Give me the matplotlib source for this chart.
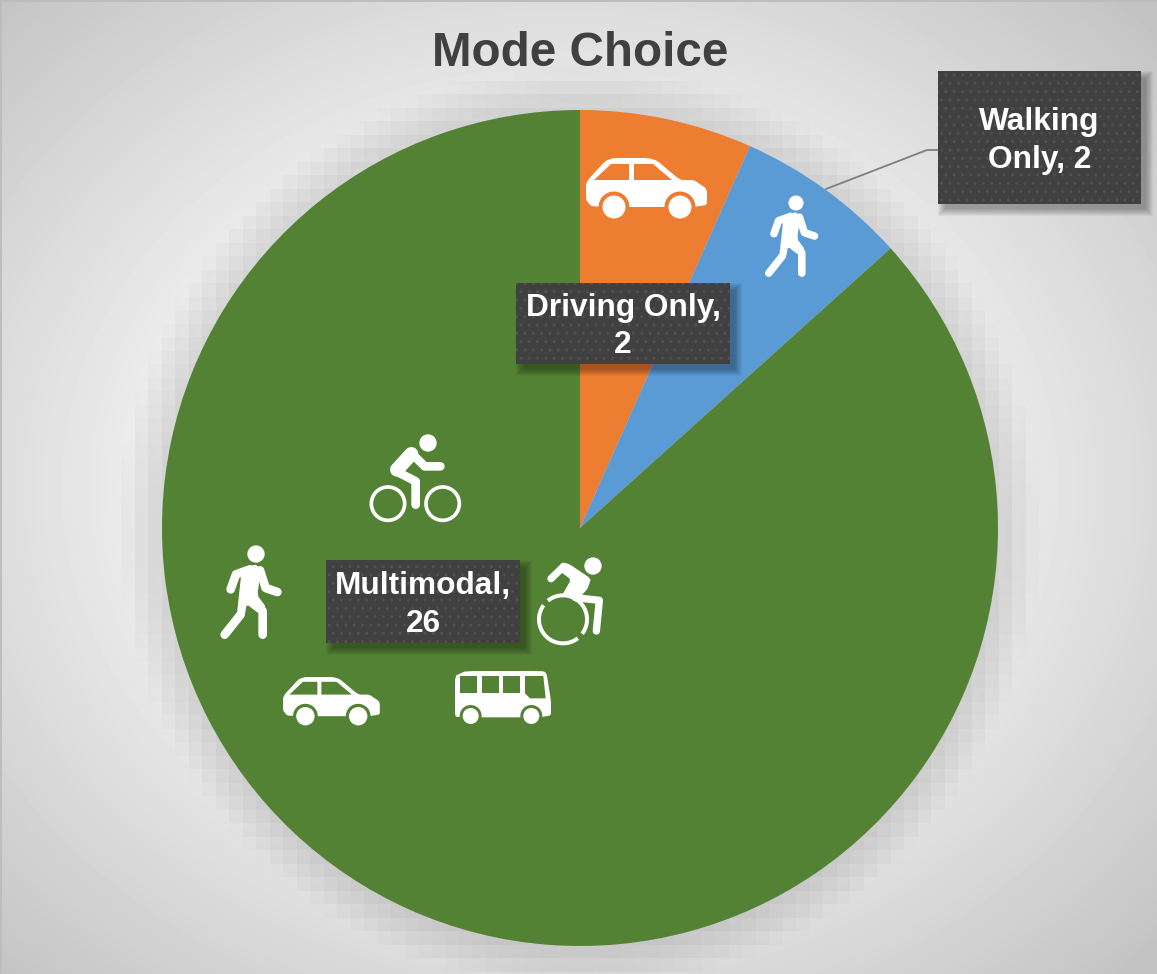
import matplotlib
matplotlib.use("Agg")

import matplotlib.pyplot as plt
import numpy as np
from matplotlib.patches import Circle, Polygon, Rectangle

W, H = 1157, 974

title = "Mode Choice"
categories = ["Driving Only", "Walking Only", "Multimodal"]
values = [2, 2, 26]
colors = ["#ED7D31", "#5B9BD5", "#548235"]
label_texts = ["Driving Only,\n2", "Walking\nOnly, 2", "Multimodal,\n26"]

plt.rcParams["font.family"] = ["Liberation Sans", "DejaVu Sans"]

WHITE = "#FFFFFF"
GREEN, ORANGE, BLUE = colors[2], colors[0], colors[1]
CX, CY, R = 580, 528, 418


def background():
    yy, xx = np.mgrid[0:H, 0:W] + 0.5
    e = np.hypot((xx - 560) / 578, (yy - 487) / 487)
    img = 238 - 44 * np.clip((e - 0.70) / 0.72, 0, 1)
    # blocky soft shadow around the pie
    bs = 13.5
    bx = (np.floor(xx / bs) + 0.5) * bs
    by = (np.floor(yy / bs) + 0.5) * bs
    d = np.hypot(bx - CX, by - CY) - R
    img = img - 26 * np.clip(1 - d / 42, 0, 1)
    return img


def smooth(pts, n=2, cut=0.12):
    # corner cutting so that the icon outlines get round corners
    p = np.asarray(pts, dtype=float)
    for _ in range(n):
        q = np.roll(p, -1, axis=0)
        p = np.column_stack([(1 - cut) * p + cut * q, cut * p + (1 - cut) * q]).reshape(-1, 2)
    return p


fig = plt.figure(figsize=(W / 100, H / 100), dpi=100)

bg_ax = fig.add_axes([0, 0, 1, 1], zorder=0)
bg_ax.imshow(background(), cmap="gray", vmin=0, vmax=255, aspect="auto",
             interpolation="nearest", extent=(0, W, H, 0))
bg_ax.set_axis_off()

pie_ax = fig.add_axes([(CX - R) / W, 1 - (CY + R) / H, 2 * R / W, 2 * R / H], zorder=1)
pie_ax.pie(values, colors=colors, startangle=90, counterclock=False, radius=1,
           wedgeprops={"linewidth": 0})
pie_ax.set_xlim(-1, 1)
pie_ax.set_ylim(-1, 1)

ax = fig.add_axes([0, 0, 1, 1], zorder=2)
ax.set_xlim(0, W)
ax.set_ylim(H, 0)
ax.set_axis_off()
ax.patch.set_alpha(0)

# thin frame on the top and left edges
ax.plot([0.5, 0.5, W], [H, 1, 1], color="#BDBDBD", lw=1.4, zorder=1, clip_on=False)


def stroke(pts, ox, oy, ax0, ay0, s, w, color=WHITE):
    # pts are in zoomed coords (3x), anchored on (ax0, ay0)
    x = [ox + (p[0] - ax0) * s / 3 for p in pts]
    y = [oy + (p[1] - ay0) * s / 3 for p in pts]
    ax.plot(x, y, color=color, lw=w * s / 3 * 0.72, solid_capstyle="round",
            solid_joinstyle="round", zorder=5)


def wedge(pts, ox, oy, ax0, ay0, s):
    p = [(ox + (a - ax0) * s / 3, oy + (b - ay0) * s / 3) for a, b in smooth(pts, 1)]
    ax.add_patch(Polygon(p, closed=True, facecolor=WHITE, edgecolor="none", zorder=5))


def dot(x, y, r, color=WHITE, z=5):
    ax.add_patch(Circle((x, y), r, facecolor=color, edgecolor="none", zorder=z))


def blob(pts, ox, oy, s, color=WHITE, z=5, n=0):
    p = smooth(pts, n) if n else np.asarray(pts, dtype=float)
    ax.add_patch(Polygon([(ox + a * s, oy + b * s) for a, b in p], closed=True,
                         facecolor=color, edgecolor="none", zorder=z))


def car(x0, y0, s, bg):
    blob([(0, 24), (22, 0), (68, 0), (94, 22), (108, 22), (121, 31), (121, 49),
          (6, 49), (0, 42)], x0, y0, s, n=2)
    blob([(8, 22), (25, 6), (43, 6), (43, 22)], x0, y0, s, bg, z=6)
    blob([(48, 6), (67, 6), (86, 22), (48, 22)], x0, y0, s, bg, z=6)
    for wx in (28, 94):
        dot(x0 + wx * s, y0 + 49 * s, 15.5 * s, bg, z=6)
        dot(x0 + wx * s, y0 + 49 * s, 11.5 * s, WHITE, z=7)


def walker(hx, hy, s):
    a = (168, 401)
    dot(hx, hy, 26 * s / 3)
    wedge([(125, 450), (165, 432), (183, 445), (172, 525), (198, 560), (175, 578),
           (140, 552), (133, 592), (110, 588)], hx, hy, *a, s)
    stroke([(92, 507), (108, 462), (150, 447)], hx, hy, *a, s, 26)
    stroke([(180, 450), (197, 503), (232, 515)], hx, hy, *a, s, 26)
    stroke([(120, 585), (74, 643)], hx, hy, *a, s, 26)
    stroke([(150, 540), (188, 572), (188, 643)], hx, hy, *a, s, 26)


def cyclist(hx, hy):
    a = (685, 70)
    dot(hx, hy, 26 / 3)
    stroke([(635, 100), (675, 140), (722, 140)], hx, hy, *a, 1, 26)
    stroke([(635, 103), (592, 150)], hx, hy, *a, 1, 42)
    stroke([(590, 155), (648, 185), (648, 255)], hx, hy, *a, 1, 26)
    for wx in (565, 729):
        ax.add_patch(Circle((hx + (wx - 685) / 3, hy + (252 - 70) / 3), 50 / 3,
                            fill=False, edgecolor=WHITE, lw=11 / 3 * 0.72, zorder=5))


def wheelchair(hx, hy):
    a = (1178, 437)
    dot(hx, hy, 26 / 3)
    stroke([(1052, 475), (1090, 438)], hx, hy, *a, 1, 22)
    wedge([(1082, 428), (1105, 430), (1172, 475), (1162, 505), (1135, 535), (1085, 525),
           (1112, 478), (1078, 452)], hx, hy, *a, 1)
    stroke([(1125, 532), (1197, 540), (1188, 632)], hx, hy, *a, 1, 22)
    wx = hx + (1088 - 1178) / 3
    wy = hy + (597 - 437) / 3
    for t0, t1 in [(-129, 37), (52, 216)]:
        t = np.radians(np.linspace(t0, t1, 60))
        ax.plot(wx + 24 * np.cos(t), wy + 24 * np.sin(t), color=WHITE, lw=4 * 0.72,
                solid_capstyle="butt", zorder=4)


def bus(x0, y0):
    # local coords are zoomed px / 3, origin top left of the icon
    s = 1 / 3
    blob([(0, 0), (265, 0), (275, 8), (288, 90), (288, 139), (2, 139), (0, 125)], x0, y0, s, n=2)
    for bx in (15, 80, 145):
        blob([(bx, 15), (bx + 51, 15), (bx + 51, 65), (bx, 65)], x0, y0, s, GREEN, z=6)
    blob([(210, 15), (265, 15), (272, 82), (225, 82), (210, 67)], x0, y0, s, GREEN, z=6)
    for wx in (47, 229):
        dot(x0 + wx * s, y0 + 135 * s, 33 * s, GREEN, z=6)
        dot(x0 + wx * s, y0 + 135 * s, 24 * s, WHITE, z=7)


def label_box(x0, y0, x1, y1, text, cy):
    # soft shadow, offset to the lower right
    for grow in range(6, -2, -1):
        ax.add_patch(Rectangle((x0 + 6 - grow, y0 + 6 - grow), x1 - x0 + 2 * grow, y1 - y0 + 2 * grow,
                               facecolor="black", edgecolor="none", alpha=0.045, zorder=8))
    ax.add_patch(Rectangle((x0, y0), x1 - x0, y1 - y0, facecolor="#404040", edgecolor="#505050",
                           lw=0, hatch="..", zorder=9))
    ax.text((x0 + x1) / 2, cy, text, color=WHITE, fontsize=22.8, fontweight="bold",
            ha="center", va="center", linespacing=1.31, zorder=10)


ax.text(580, 54, title, color="#404040", fontsize=34.3, fontweight="bold",
        ha="center", va="center", zorder=10)

# leader line for the walking label
ax.plot([826, 927, 940], [189, 150, 150], color="#7F7F7F", lw=1.3, zorder=6)

car(586, 158, 1.0, ORANGE)
car(283, 677, 0.8, GREEN)
walker(796, 203, 0.87)
walker(256, 554, 1.0)
cyclist(428, 443)
wheelchair(593, 566)
bus(455, 671)

label_box(516, 283, 730, 364, label_texts[0], 326.5)
label_box(938, 71, 1141, 204, label_texts[1], 141)
label_box(326, 560, 520, 643, label_texts[2], 605)

fig.savefig("out.png", dpi=100)
